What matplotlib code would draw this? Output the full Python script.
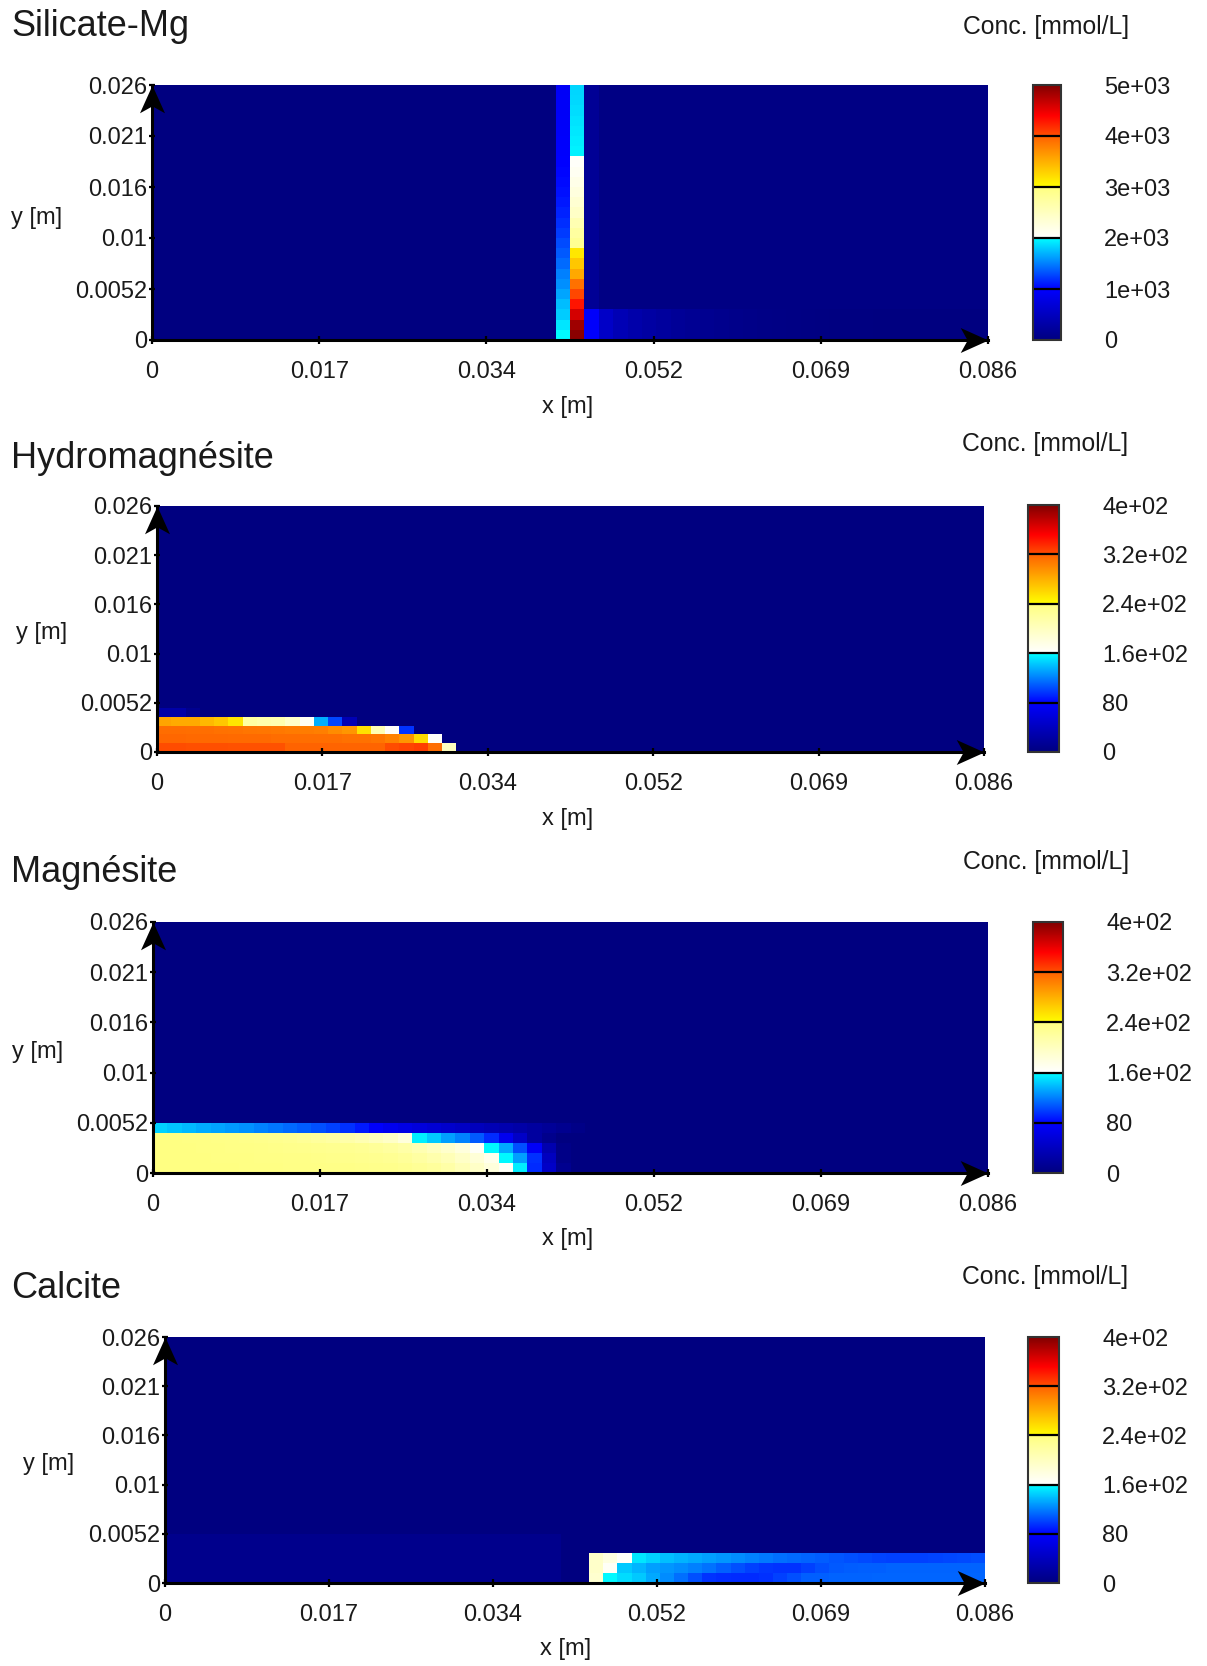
import numpy as np
import matplotlib
matplotlib.use('Agg')
import matplotlib.pyplot as plt
from matplotlib.colors import LinearSegmentedColormap
from matplotlib.path import Path

plt.rcParams['font.family'] = ['Liberation Sans', 'DejaVu Sans']

# ---------------- data ----------------
x_max = 0.086
y_max = 0.026
n_cols = 58

x_ticks = [0, 0.0172, 0.0344, 0.0516, 0.0688, 0.086]
x_tick_labels = ['0', '0.017', '0.034', '0.052', '0.069', '0.086']
y_ticks = [0, 0.0052, 0.0104, 0.0156, 0.0208, 0.026]
y_tick_labels = ['0', '0.0052', '0.01', '0.016', '0.021', '0.026']

titles = ['Silicate-Mg', 'Hydromagnésite', 'Magnésite', 'Calcite']
vmaxes = [5000, 400, 400, 400]
cbar_ticks = [[0, 1000, 2000, 3000, 4000, 5000],
              [0, 80, 160, 240, 320, 400],
              [0, 80, 160, 240, 320, 400],
              [0, 80, 160, 240, 320, 400]]
cbar_tick_labels = [['0', '1e+03', '2e+03', '3e+03', '4e+03', '5e+03'],
                    ['0', '80', '1.6e+02', '2.4e+02', '3.2e+02', '4e+02'],
                    ['0', '80', '1.6e+02', '2.4e+02', '3.2e+02', '4e+02'],
                    ['0', '80', '1.6e+02', '2.4e+02', '3.2e+02', '4e+02']]
n_rows = [25, 28, 25, 25]

# Silicate-Mg columns (rows bottom -> top)
silicate_col28 = [1990, 1900, 1800, 1740, 1650, 1560, 1500, 1420, 1350, 1290, 1230, 1180, 1130,
                  1090, 1060, 1040, 1020, 1005, 990, 975, 965, 955, 950, 945, 940]
silicate_col29 = [4950, 4850, 4600, 4300, 4050, 3900, 3550, 3350, 3150, 2850, 2740, 2600, 2450,
                  2350, 2260, 2180, 2100, 2050, 1950, 1930, 1910, 1890, 1870, 1850, 1840]
silicate_col30 = [980, 970, 960, 175, 175, 175, 175, 175, 175, 175, 175, 175, 175,
                  175, 175, 175, 175, 175, 175, 175, 175, 175, 175, 175, 175]
silicate_bottom_right = [560, 420, 340, 280, 230, 190, 160, 130, 105, 85, 70, 55, 45, 35, 28,
                         22, 18, 14, 11, 9, 7, 5, 4, 3, 2, 1, 0]   # cols 31..57, rows 0-2
silicate_upper_right = 40                                         # cols 31..57, rows 3+

# Hydromagnesite rows (cols from 0)
hydro_row0 = [322, 322, 321, 321, 321, 320, 320, 320, 320, 319, 319, 319, 318, 318, 318, 318,
              322, 325, 328, 313, 200]
hydro_row1 = [317, 317, 316, 316, 316, 315, 315, 315, 314, 314, 313, 313, 313, 312, 312, 310,
              303, 293, 258, 163]
hydro_row2 = [314, 314, 313, 313, 312, 311, 310, 309, 308, 307, 306, 305, 298, 293, 255, 207,
              163, 96]
hydro_row3 = [286, 283, 283, 275, 268, 253, 219, 213, 210, 194, 166, 135, 102, 33]
hydro_row4 = [25, 25, 10]

# Magnesite rows (cols from 0)
mag_row0 = [238, 238, 238, 238, 238, 238, 237, 237, 237, 236, 236, 236, 235, 235, 234, 233, 232,
            230, 226, 222, 215, 205, 195, 182, 165, 155, 93, 45, 10]
mag_row1 = [238, 238, 238, 238, 237, 237, 237, 236, 236, 235, 235, 234, 233, 232, 231, 230, 228,
            224, 218, 212, 205, 195, 185, 172, 158, 130, 95, 40, 5]
mag_row2 = [238, 238, 238, 237, 237, 236, 236, 235, 234, 233, 232, 231, 230, 229, 227, 224, 220,
            215, 208, 200, 192, 182, 165, 158, 133, 105, 75, 30, 5]
mag_row3 = [238, 238, 237, 237, 236, 235, 234, 233, 231, 229, 226, 222, 218, 214, 208, 202, 195,
            182, 155, 143, 130, 121, 108, 93, 70, 45, 20, 8]
mag_row4 = [146, 142, 138, 134, 131, 128, 125, 121, 117, 113, 109, 105, 100, 95, 88, 78, 70, 64,
            58, 53, 48, 43, 38, 33, 29, 25, 20, 15, 10, 5]

# Calcite rows (cols 30..57)
calc_row0 = [190, 158, 149, 143, 133, 124, 115, 105, 96, 94, 93, 93, 95, 100, 105, 110, 110,
             111, 111, 111, 112, 112, 112, 112, 112, 112, 112, 112]
calc_row1 = [194, 166, 143, 137, 130, 127, 124, 120, 116, 110, 105, 100, 97, 96, 96, 100, 105,
             108, 109, 110, 110, 111, 111, 111, 111, 111, 111, 111]
calc_row2 = [194, 179, 163, 152, 146, 140, 136, 133, 130, 127, 124, 121, 118, 115, 113, 111, 109,
             107, 105, 103, 101, 100, 100, 100, 101, 102, 103, 104]
calc_left_faint = 8   # rows 0-4, cols 0..27

# ---------------- build grids ----------------
sil = np.zeros((n_rows[0], n_cols))
sil[:, 28] = silicate_col28
sil[:, 29] = silicate_col29
sil[:, 30] = silicate_col30
sil[3:, 31:] = silicate_upper_right
for r in range(3):
    sil[r, 31:] = silicate_bottom_right

hyd = np.zeros((n_rows[1], n_cols))
for r, row in enumerate([hydro_row0, hydro_row1, hydro_row2, hydro_row3, hydro_row4]):
    hyd[r, :len(row)] = row

mag = np.zeros((n_rows[2], n_cols))
for r, row in enumerate([mag_row0, mag_row1, mag_row2, mag_row3, mag_row4]):
    mag[r, :len(row)] = row

cal = np.zeros((n_rows[3], n_cols))
cal[0:5, 0:28] = calc_left_faint
for r, row in enumerate([calc_row0, calc_row1, calc_row2]):
    cal[r, 30:30 + len(row)] = row

fields = [sil, hyd, mag, cal]

# ---------------- colormap ----------------
nodes = [
    (0.0, (0, 0, 0.5), (0, 0, 0.5)),
    (0.2, (0, 0, 1), (0, 0, 1)),
    (0.4, (0, 1, 1), (1, 1, 1)),
    (0.6, (1, 1, 0.5), (1, 1, 0)),
    (0.8, (1, 0.38, 0), (1, 0.32, 0)),
    (0.88, (1, 0, 0), (1, 0, 0)),
    (1.0, (0.5, 0, 0), (0.5, 0, 0)),
]
cdict = {}
for i, ch in enumerate(['red', 'green', 'blue']):
    cdict[ch] = [(x, lo[i], hi[i]) for x, lo, hi in nodes]
cmap = LinearSegmentedColormap('conc', cdict, N=1024)

# ---------------- layout (pixels) ----------------
W, H = 1207, 1666
axes_px = [(152, 85, 988, 340), (157, 506, 984, 752), (153, 922, 988, 1173), (165, 1337, 985, 1583)]
cbar_px = [(1033, 85, 1061, 340), (1028, 505, 1059, 752), (1033, 922, 1063, 1173), (1028, 1337, 1059, 1583)]
title_y = [27, 459, 873, 1289]
conc_pos = [(963, 27), (962, 444), (963, 862), (962, 1277)]
ylab_pos = [(11, 218), (16, 633), (12, 1052), (23, 1464)]
xlab_pos = [(568, 407), (568, 819), (568, 1239), (566, 1649)]

fig = plt.figure(figsize=(W / 100, H / 100), dpi=100)
fig.patch.set_facecolor('white')


def rect(l, t, r, b):
    return [l / W, 1 - b / H, (r - l) / W, (b - t) / H]


up_arrow = Path([(0, 0), (-0.45, -1), (0, -0.75), (0.45, -1), (0, 0)],
                [Path.MOVETO, Path.LINETO, Path.LINETO, Path.LINETO, Path.CLOSEPOLY])
right_arrow = Path([(0, 0), (-1, 0.45), (-0.75, 0), (-1, -0.45), (0, 0)],
                   [Path.MOVETO, Path.LINETO, Path.LINETO, Path.LINETO, Path.CLOSEPOLY])

txt_color = '#1a1a1a'
fs = 17

for i in range(4):
    ax = fig.add_axes(rect(*axes_px[i]))
    nr = n_rows[i]
    xe = np.linspace(0, x_max, n_cols + 1)
    ye = np.linspace(0, y_max, nr + 1)
    mesh = ax.pcolormesh(xe, ye, fields[i], cmap=cmap, vmin=0, vmax=vmaxes[i],
                         shading='flat', antialiased=False, rasterized=True)
    ax.set_xlim(0, x_max)
    ax.set_ylim(0, y_max)
    for s in ['top', 'right']:
        ax.spines[s].set_visible(False)
    for s in ['left', 'bottom']:
        ax.spines[s].set_linewidth(2.2)
        ax.spines[s].set_color('black')
        ax.spines[s].set_zorder(5)
    ax.set_xticks(x_ticks)
    ax.set_xticklabels(x_tick_labels)
    ax.set_yticks(y_ticks)
    ax.set_yticklabels(y_tick_labels)
    ax.tick_params(axis='x', direction='inout', length=6, width=1.6, pad=12,
                   labelsize=fs, labelcolor=txt_color)
    ax.tick_params(axis='y', direction='inout', length=5, width=1.6, pad=1,
                   labelsize=fs, labelcolor=txt_color)
    ax.plot([0], [1], marker=up_arrow, ms=40, color='black', mew=0,
            transform=ax.transAxes, clip_on=False, zorder=10)
    ax.plot([1], [0], marker=right_arrow, ms=40, color='black', mew=0,
            transform=ax.transAxes, clip_on=False, zorder=10)

    cax = fig.add_axes(rect(*cbar_px[i]))
    cb = fig.colorbar(mesh, cax=cax, ticks=cbar_ticks[i])
    cb.ax.set_yticklabels(cbar_tick_labels[i])
    cb.ax.tick_params(length=0, pad=31, labelsize=fs, labelcolor=txt_color)
    cb.outline.set_linewidth(1.5)
    cb.outline.set_edgecolor('#333333')
    for t in cbar_ticks[i][1:-1]:
        cax.axhline(t, color='black', lw=1.6)

    fig.text(11 / W, 1 - title_y[i] / H, titles[i], fontsize=26, color=txt_color,
             ha='left', va='center')
    fig.text(conc_pos[i][0] / W, 1 - conc_pos[i][1] / H, 'Conc. [mmol/L]', fontsize=17.8,
             color=txt_color, ha='left', va='center')
    fig.text(ylab_pos[i][0] / W, 1 - ylab_pos[i][1] / H, 'y [m]', fontsize=fs,
             color=txt_color, ha='left', va='center')
    fig.text(xlab_pos[i][0] / W, 1 - xlab_pos[i][1] / H, 'x [m]', fontsize=fs,
             color=txt_color, ha='center', va='center')

fig.savefig('out.png', dpi=100, facecolor='white')
